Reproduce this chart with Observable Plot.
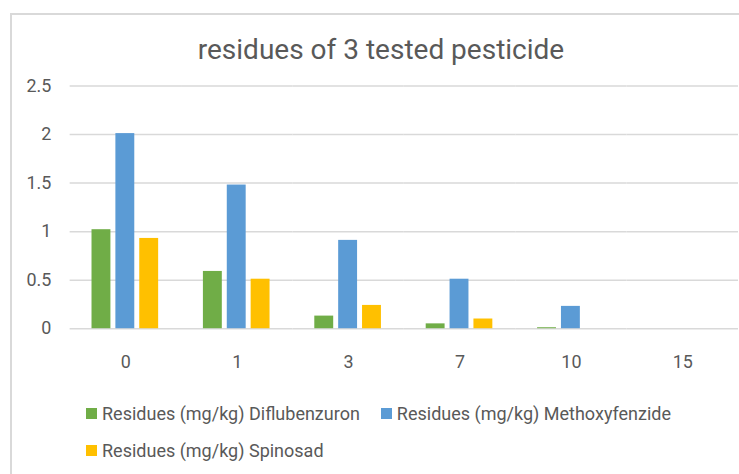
<!DOCTYPE html>
<html>
<head>
<meta charset="utf-8">
<script src="https://cdn.jsdelivr.net/npm/d3@7"></script>
<script src="https://cdn.jsdelivr.net/npm/@observablehq/plot@0.6"></script>
<style>
  html, body { margin: 0; padding: 0; background: #fff; }
  #wrap { position: relative; width: 739px; height: 474px; overflow: hidden; background: #fff; font-family: Roboto, "Liberation Sans", sans-serif; color: #595959; }
  #frame { position: absolute; left: 10px; top: 13px; width: 800px; height: 600px; border: 2px solid #d9d9d9; box-sizing: border-box; }
  #title { position: absolute; left: 12px; width: 738px; top: 32px; text-align: center; font-family: "Liberation Sans Narrow", Roboto, sans-serif; font-size: 28px; line-height: 36px; color: #595959; }
  #plot { position: absolute; left: 0; top: 0; }
  #legend { position: absolute; left: 86px; top: 395px; width: 600px; display: flex; flex-wrap: wrap; column-gap: 21px; font-size: 18px; line-height: 37px; }
  .item { display: flex; align-items: center; white-space: nowrap; }
  .sw { width: 11px; height: 11px; margin-right: 5px; display: inline-block; }
</style>
</head>
<body>
<div id="wrap">
  <div id="frame"></div>
  <div id="plot"></div>
  <div id="title">residues of 3 tested pesticide</div>
  <div id="legend"></div>
</div>
<script>
const days = ["0", "1", "3", "7", "10", "15"];
const seriesNames = [
  "Residues (mg/kg) Diflubenzuron",
  "Residues (mg/kg) Methoxyfenzide",
  "Residues (mg/kg) Spinosad"
];
const diflubenzuron = [1.02, 0.59, 0.13, 0.05, 0.01, 0];
const methoxyfenozide = [2.01, 1.48, 0.91, 0.51, 0.23, 0];
const spinosad = [0.93, 0.51, 0.24, 0.10, 0, 0];
const colors = ["#70AD47", "#5B9BD5", "#FFC000"];
const yTicks = [0, 0.5, 1, 1.5, 2, 2.5];

const seriesValues = [diflubenzuron, methoxyfenozide, spinosad];
const rows = [];
days.forEach((d, i) => {
  seriesNames.forEach((s, j) => rows.push({day: d, series: s, value: seriesValues[j][i]}));
});

const chart = Plot.plot({
  width: 743,
  height: 390,
  marginLeft: 69,
  marginRight: 0,
  marginTop: 86,
  marginBottom: 60,
  style: {fontFamily: "Roboto, sans-serif", fontSize: "18px", color: "#595959", background: "transparent"},
  fx: {domain: days, padding: 0, tickSize: 0, tickPadding: 27, label: null, axis: "bottom"},
  x: {domain: seriesNames, paddingInner: 0.2, paddingOuter: 0.85, axis: null},
  y: {domain: [0, 2.5], ticks: yTicks, tickSize: 0, tickPadding: 19, tickFormat: d => String(d), label: null},
  color: {domain: seriesNames, range: colors},
  marks: [
    Plot.ruleY(yTicks, {stroke: "#d9d9d9", strokeWidth: 1.5}),
    Plot.barY(rows, {fx: "day", x: "series", y: "value", fill: "series"})
  ]
});
document.getElementById("plot").appendChild(chart);

const legend = document.getElementById("legend");
seriesNames.forEach((s, j) => {
  const it = document.createElement("div");
  it.className = "item";
  const sw = document.createElement("span");
  sw.className = "sw";
  sw.style.background = colors[j];
  it.appendChild(sw);
  it.appendChild(document.createTextNode(s));
  legend.appendChild(it);
});
</script>
</body>
</html>
